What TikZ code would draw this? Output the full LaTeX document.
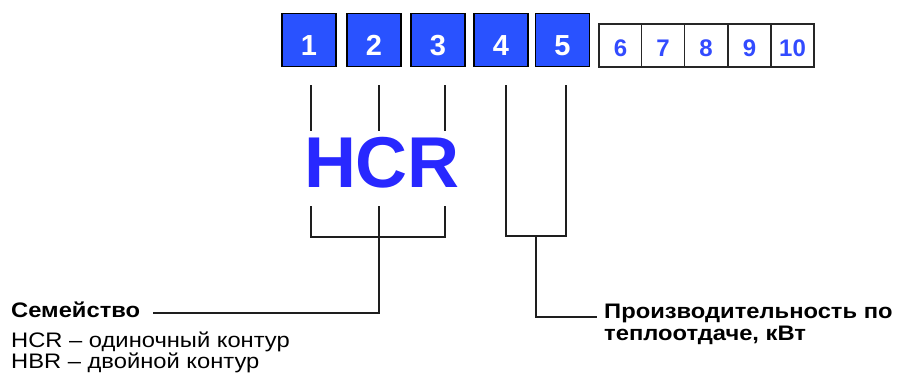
\documentclass[tikz,border=0pt]{standalone}
\usepackage{fontspec}
\setmainfont{Liberation Sans}
\newfontfamily\widefont[FakeStretch=1.13]{Liberation Sans}
\definecolor{boxblue}{RGB}{41,82,255}
\definecolor{hcrblue}{RGB}{40,40,255}
\definecolor{digitblue}{RGB}{50,75,255}
\definecolor{linegray}{RGB}{30,30,30}
\begin{document}
\begin{tikzpicture}[x=1pt,y=-1pt,
  bigbox/.style={draw=black, line width=1.8pt, fill=boxblue, minimum width=54pt, minimum height=53pt,
    inner sep=0pt, text height=30pt, text depth=0pt, text=white, font=\fontsize{29}{29}\selectfont\bfseries},
  smallbox/.style={draw=black!85, line width=1.2pt, fill=white, minimum width=43pt, minimum height=43pt,
    inner sep=0pt, text height=21pt, text depth=0pt, text=digitblue, font=\fontsize{24}{24}\selectfont\bfseries},
  conn/.style={draw=linegray, line width=1.5pt},
  lbl/.style={inner sep=0pt, anchor=base west, font=\widefont\fontsize{21}{21}\selectfont},
  blbl/.style={lbl, font=\widefont\fontsize{21}{21}\selectfont\bfseries}]
\useasboundingbox (0,0) rectangle (900,375);
% code boxes
\node[bigbox] (b1) at (309,40) {1};
\node[bigbox] (b2) at (374,40) {2};
\node[bigbox] (b3) at (438,40) {3};
\node[bigbox] (b4) at (501,40) {4};
\node[bigbox] (b5) at (562.5,40) {5};
\node[smallbox] (s6) at (620.5,45.5) {6};
\node[smallbox] (s7) at (663,45.5) {7};
\node[smallbox] (s8) at (706,45.5) {8};
\node[smallbox] (s9) at (749.5,45.5) {9};
\node[smallbox] (s10) at (792.5,45.5) {10};
% big HCR
\node[inner sep=0pt, anchor=base, text=hcrblue, font=\fontsize{72}{72}\selectfont\bfseries] (hcr) at (382,187) {HCR};
% labels
\node[blbl] (fam) at (11,317) {Семейство};
\node[lbl] (fam1) at (11,347) {HCR – одиночный контур};
\node[lbl] (fam2) at (11,368) {HBR – двойной контур};
\node[blbl] (pow1) at (604,318) {Производительность по};
\node[blbl] (pow2) at (604,340) {теплоотдаче, кВт};
% coordinates
\coordinate (t1) at (311,85);  \coordinate (m1) at (311,131);
\coordinate (t2) at (379,85);  \coordinate (m2) at (379,131);
\coordinate (t3) at (445,85);  \coordinate (m3) at (445,131);
\coordinate (u1) at (311,206); \coordinate (u2) at (379,206); \coordinate (u3) at (445,206);
\coordinate (famend) at (153,313);
\coordinate (t4) at (506,85); \coordinate (t5) at (566,85);
\coordinate (powend) at (597,317);
% family connectors
\draw[conn] (t1) -- (m1);
\draw[conn] (t2) -- (m2);
\draw[conn] (t3) -- (m3);
\draw[conn] (u1) -- (311,237) -- (445,237) -- (u3);
\draw[conn] (u2) -- (379,237) -- (379,313) -- (famend);
% power connectors
\draw[conn] (t4) -- (506,236) -- (566,236) -- (t5);
\draw[conn] (536,236) -- (536,317) -- (powend);
\end{tikzpicture}
\end{document}
